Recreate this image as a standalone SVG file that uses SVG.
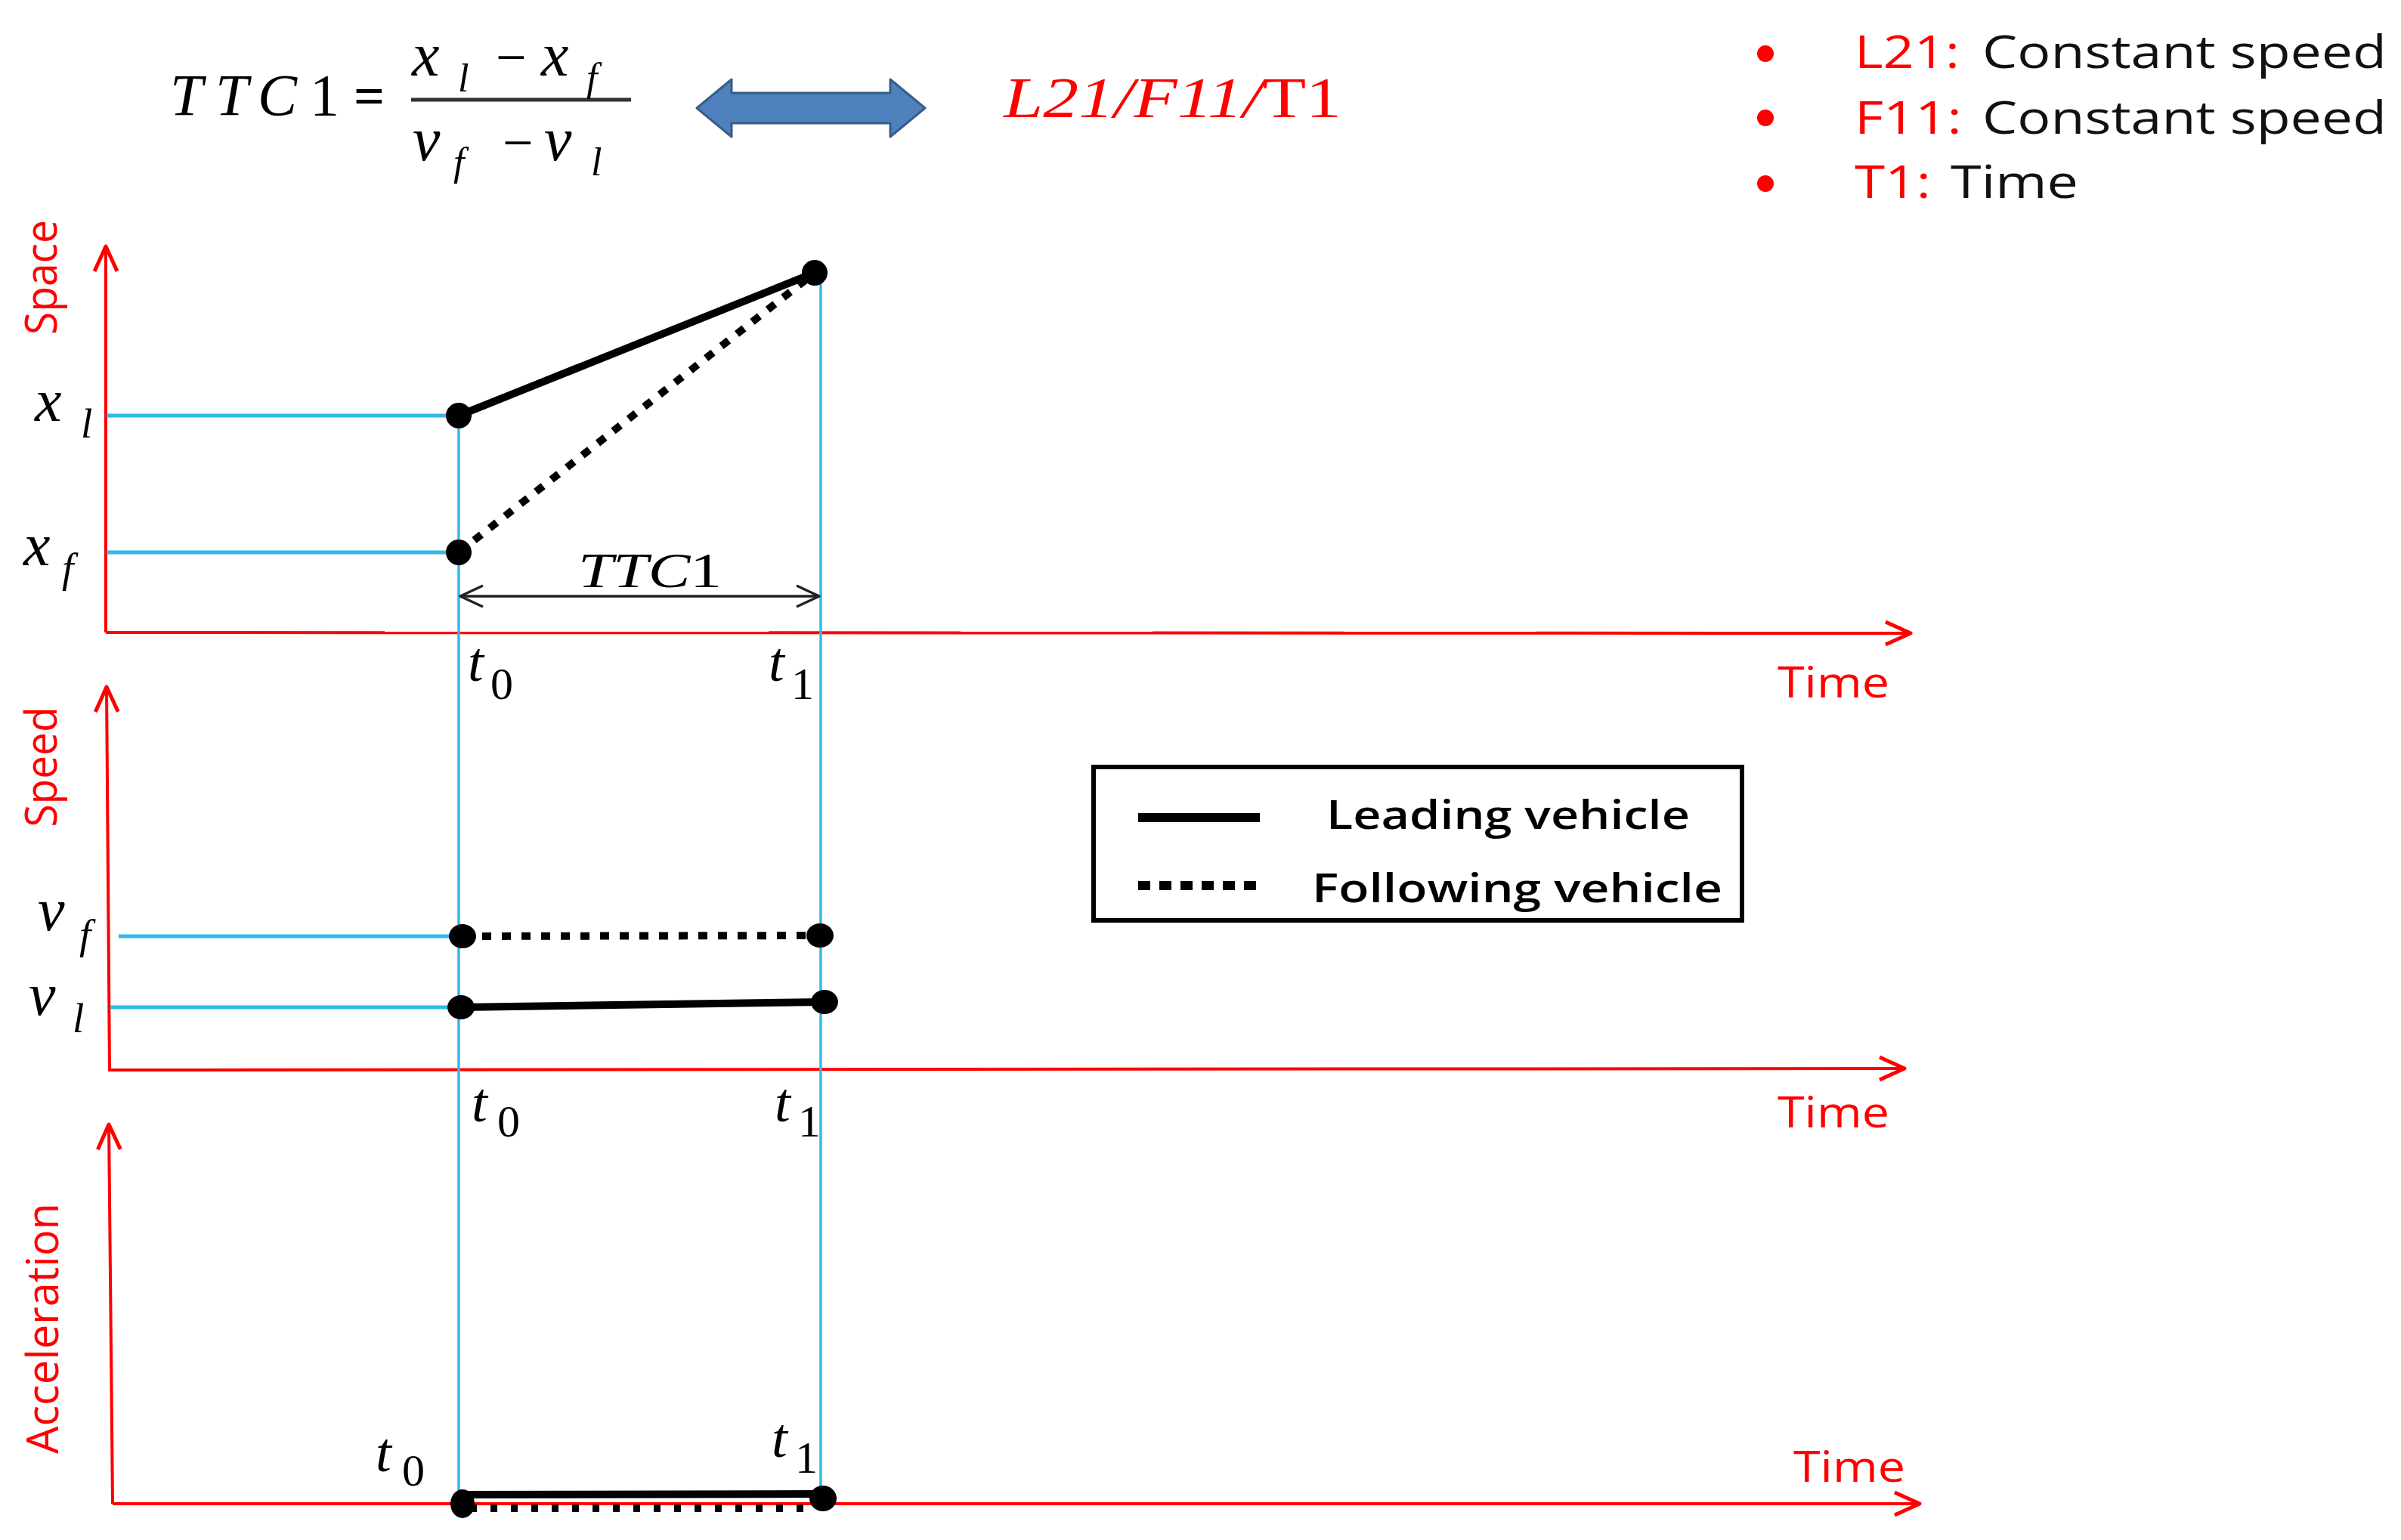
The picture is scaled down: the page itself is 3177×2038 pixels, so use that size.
<svg xmlns="http://www.w3.org/2000/svg" width="3177" height="2038" viewBox="0 0 3177 2038">
<style>
.serif{font-family:"Liberation Serif","Times New Roman",serif;fill:#000}
.it{font-style:italic}
.sans{font-family:"Open Sans","Liberation Sans",Arial,sans-serif}
.red{fill:#FF0000}
.axis{stroke:#FF0000;stroke-width:4;fill:none}
.guide{stroke:#33B8EC;fill:none}
.lead{stroke:#000;stroke-width:10;fill:none;stroke-linecap:round}
.follow{stroke:#000;stroke-width:10;fill:none;stroke-dasharray:12 14}
.dot{fill:#000}
</style>
<defs>
<marker id="redHead" markerUnits="userSpaceOnUse" markerWidth="80" markerHeight="80" refX="0" refY="0" viewBox="-40 -40 80 80" orient="auto" overflow="visible">
<path d="M -33 -15 L 0 0 L -33 15" fill="none" stroke="#FF0000" stroke-width="5" stroke-linejoin="round"/>
</marker>
<marker id="blackHead" markerUnits="userSpaceOnUse" markerWidth="80" markerHeight="80" refX="0" refY="0" viewBox="-40 -40 80 80" orient="auto-start-reverse" overflow="visible">
<path d="M -30 -14 L 0 0 L -30 14" fill="none" stroke="#222" stroke-width="3.5" stroke-linejoin="round"/>
</marker>
</defs>
<rect width="3177" height="2038" fill="#FFFFFF"/>

<g id="formula">
<text class="serif it" y="152" font-size="78"><tspan x="225">T</tspan><tspan x="285">T</tspan><tspan x="341">C</tspan><tspan x="410" font-style="normal">1</tspan></text>
<text class="serif" x="468" y="151" font-size="72" font-weight="bold">=</text>
<line x1="544" y1="132" x2="835" y2="132" stroke="#333" stroke-width="5"/>
<text class="serif it" x="545" y="100" font-size="82">x</text>
<text class="serif it" x="606" y="121" font-size="52">l</text>
<text class="serif" x="656" y="100" font-size="72">−</text>
<text class="serif it" x="716" y="100" font-size="82">x</text>
<text class="serif it" x="776" y="120" font-size="52">f</text>
<text class="serif it" x="546" y="212" font-size="82">v</text>
<text class="serif it" x="600" y="232" font-size="52">f</text>
<text class="serif" x="665" y="213" font-size="72">−</text>
<text class="serif it" x="720" y="212" font-size="82">v</text>
<text class="serif it" x="782" y="232" font-size="52">l</text>
</g>

<g id="equivalence-arrow">
<polygon points="922,143 968,105 968,123 1178,123 1178,105 1224,143 1178,181 1178,163 968,163 968,181" fill="#4F81BD" stroke="#385D8A" stroke-width="3" stroke-linejoin="round"/>
</g>

<g id="case-label">
<text class="serif red" x="1328" y="155" font-size="76" textLength="447" lengthAdjust="spacingAndGlyphs"><tspan font-style="italic">L21/F11/</tspan><tspan>T1</tspan></text>
</g>

<g id="definitions">
<circle cx="2336" cy="71" r="11" fill="#FF0000"/>
<text class="sans red" x="2454" y="90" font-size="60" textLength="139" lengthAdjust="spacingAndGlyphs">L21:</text>
<text class="sans" x="2623" y="90" font-size="60" fill="#111" textLength="535" lengthAdjust="spacingAndGlyphs">Constant speed</text>
<circle cx="2336" cy="156" r="11" fill="#FF0000"/>
<text class="sans red" x="2454" y="177" font-size="60" textLength="142" lengthAdjust="spacingAndGlyphs">F11:</text>
<text class="sans" x="2623" y="177" font-size="60" fill="#111" textLength="535" lengthAdjust="spacingAndGlyphs">Constant speed</text>
<circle cx="2336" cy="243" r="11" fill="#FF0000"/>
<text class="sans red" x="2454" y="262" font-size="60" textLength="101" lengthAdjust="spacingAndGlyphs">T1:</text>
<text class="sans" x="2581" y="262" font-size="60" fill="#111" textLength="169" lengthAdjust="spacingAndGlyphs">Time</text>
</g>

<g id="connectors">
<line class="axis" x1="140" y1="837" x2="140" y2="326" marker-end="url(#redHead)"/>
<line class="axis" x1="140" y1="837" x2="2528" y2="838" marker-end="url(#redHead)"/>
<line class="axis" x1="145" y1="1418" x2="141" y2="909" marker-end="url(#redHead)"/>
<line class="axis" x1="145" y1="1416" x2="2520" y2="1414" marker-end="url(#redHead)"/>
<line class="axis" x1="149" y1="1990" x2="144" y2="1488" marker-end="url(#redHead)"/>
<line class="axis" x1="149" y1="1990" x2="2540" y2="1990" marker-end="url(#redHead)"/>
<line class="guide" x1="141" y1="550" x2="607" y2="550" stroke-width="5"/>
<line class="guide" x1="141" y1="731" x2="607" y2="731" stroke-width="5"/>
<line class="guide" x1="157" y1="1239" x2="607" y2="1239" stroke-width="5"/>
<line class="guide" x1="146" y1="1333" x2="607" y2="1333" stroke-width="5"/>
<line class="guide" x1="607" y1="550" x2="607" y2="1978" stroke-width="3.5"/>
<line class="guide" x1="1086" y1="361" x2="1086" y2="1980" stroke-width="3.5"/>
<line x1="609" y1="789" x2="1084" y2="789" stroke="#222" stroke-width="3.5" marker-start="url(#blackHead)" marker-end="url(#blackHead)"/>
<line class="lead" x1="607" y1="550" x2="1078" y2="361"/>
<line class="follow" x1="607" y1="731" x2="1078" y2="361"/>
<line class="follow" x1="612" y1="1239" x2="1085" y2="1238"/>
<line class="lead" x1="610" y1="1333" x2="1090" y2="1326"/>
<line class="lead" x1="612" y1="1978" x2="1086" y2="1977" stroke-width="12"/>
<line x1="622" y1="1996" x2="1080" y2="1996" stroke="#000" stroke-width="10" stroke-dasharray="9 18"/>
</g>

<g id="points">
<circle class="dot" cx="607" cy="550" r="17"/>
<circle class="dot" cx="607" cy="731" r="17"/>
<circle class="dot" cx="1078" cy="361" r="17"/>
<ellipse class="dot" cx="612" cy="1239" rx="18" ry="16"/>
<ellipse class="dot" cx="1085" cy="1238" rx="18" ry="16"/>
<ellipse class="dot" cx="610" cy="1333" rx="18" ry="16"/>
<ellipse class="dot" cx="1091" cy="1326" rx="18" ry="16"/>
<ellipse class="dot" cx="612" cy="1990" rx="16" ry="19"/>
<ellipse class="dot" cx="1089" cy="1983" rx="18" ry="17"/>
</g>

<g id="panel-space">
<text class="sans red" transform="translate(75,367) rotate(-90)" font-size="58" text-anchor="middle" textLength="152" lengthAdjust="spacingAndGlyphs">Space</text>
<text class="serif it" x="46" y="557" font-size="80">x</text>
<text class="serif it" x="107" y="579" font-size="55">l</text>
<text class="serif it" x="31" y="748" font-size="80">x</text>
<text class="serif it" x="82" y="770" font-size="55">f</text>
<text class="serif it" x="765" y="777" font-size="66" textLength="190" lengthAdjust="spacingAndGlyphs">TTC<tspan font-style="normal">1</tspan></text>
<text class="serif it" x="619" y="901" font-size="75">t</text>
<text class="serif" x="649" y="925" font-size="60">0</text>
<text class="serif it" x="1017" y="901" font-size="75">t</text>
<text class="serif" x="1047" y="925" font-size="60">1</text>
<text class="sans red" x="2352" y="923" font-size="56" textLength="148" lengthAdjust="spacingAndGlyphs">Time</text>
</g>

<g id="panel-speed">
<text class="sans red" transform="translate(75,1015) rotate(-90)" font-size="58" text-anchor="middle" textLength="159" lengthAdjust="spacingAndGlyphs">Speed</text>
<text class="serif it" x="50" y="1231" font-size="80">v</text>
<text class="serif it" x="105" y="1255" font-size="55">f</text>
<text class="serif it" x="38" y="1343" font-size="80">v</text>
<text class="serif it" x="96" y="1366" font-size="55">l</text>
<text class="serif it" x="624" y="1484" font-size="75">t</text>
<text class="serif" x="658" y="1504" font-size="60">0</text>
<text class="serif it" x="1025" y="1484" font-size="75">t</text>
<text class="serif" x="1056" y="1504" font-size="60">1</text>
<text class="sans red" x="2352" y="1492" font-size="56" textLength="148" lengthAdjust="spacingAndGlyphs">Time</text>
</g>

<g id="panel-acceleration">
<text class="sans red" transform="translate(77,1758) rotate(-90)" font-size="58" text-anchor="middle" textLength="332" lengthAdjust="spacingAndGlyphs">Acceleration</text>
<text class="serif it" x="497" y="1947" font-size="75">t</text>
<text class="serif" x="532" y="1966" font-size="60">0</text>
<text class="serif it" x="1021" y="1928" font-size="75">t</text>
<text class="serif" x="1052" y="1949" font-size="60">1</text>
<text class="sans red" x="2373" y="1961" font-size="56" textLength="148" lengthAdjust="spacingAndGlyphs">Time</text>
</g>

<g id="legend">
<rect x="1447" y="1015" width="858" height="203" fill="#FFFFFF" stroke="#000" stroke-width="6"/>
<line x1="1506" y1="1082" x2="1667" y2="1082" stroke="#000" stroke-width="12"/>
<line x1="1506" y1="1172" x2="1667" y2="1172" stroke="#000" stroke-width="12" stroke-dasharray="16 12"/>
<text class="sans" x="1755" y="1097" font-size="53" font-weight="600" fill="#000" textLength="481" lengthAdjust="spacingAndGlyphs">Leading vehicle</text>
<text class="sans" x="1736" y="1194" font-size="53" font-weight="600" fill="#000" textLength="543" lengthAdjust="spacingAndGlyphs">Following vehicle</text>
</g>
</svg>
